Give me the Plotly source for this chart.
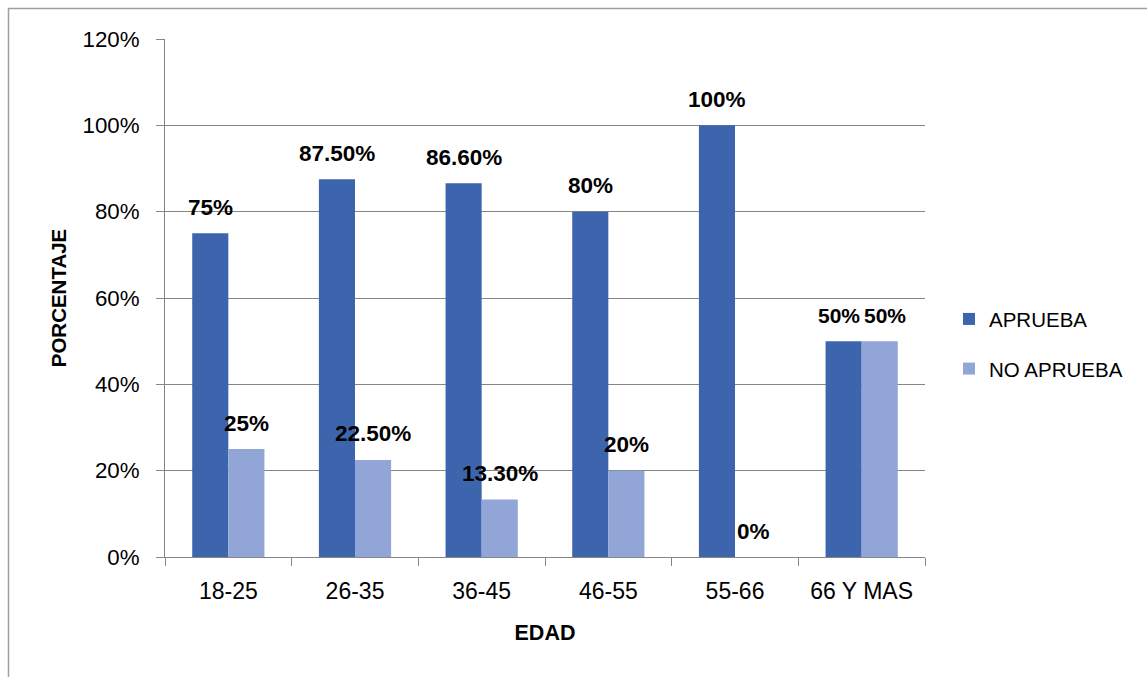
import plotly.graph_objects as go

categorias = ["18-25", "26-35", "36-45", "46-55", "55-66", "66 Y MAS"]
aprueba = [0.75, 0.875, 0.866, 0.80, 1.00, 0.50]
no_aprueba = [0.25, 0.225, 0.133, 0.20, 0.00, 0.50]
etiquetas_aprueba = ["75%", "87.50%", "86.60%", "80%", "100%", "50%"]
etiquetas_no_aprueba = ["25%", "22.50%", "13.30%", "20%", "0%", "50%"]

FONT = "Liberation Sans"
C1 = "#3C65AE"
C2 = "#91A6D6"

fig = go.Figure()
fig.add_trace(go.Bar(x=categorias, y=aprueba, name="APRUEBA", marker_color=C1,
                     marker_line_width=0, legendgroup="a"))
fig.add_trace(go.Bar(x=categorias, y=no_aprueba, name="NO APRUEBA", marker_color=C2,
                     marker_line_width=0, legendgroup="b"))

ann = []
for i, (cat, v, t) in enumerate(zip(categorias, aprueba, etiquetas_aprueba)):
    crowded = abs(aprueba[i] - no_aprueba[i]) < 0.05
    ann.append(dict(x=cat, y=v, text=t, xshift=-23 if crowded else -18, yshift=26, showarrow=False,
                    font=dict(family=FONT, size=21 if crowded else 22.5, color="black", weight="bold")))
for i, (cat, v, t) in enumerate(zip(categorias, no_aprueba, etiquetas_no_aprueba)):
    crowded = abs(aprueba[i] - no_aprueba[i]) < 0.05
    ann.append(dict(x=cat, y=v, text=t, xshift=23 if crowded else 18, yshift=26, showarrow=False,
                    font=dict(family=FONT, size=21 if crowded else 22.5, color="black", weight="bold")))

fig.update_layout(
    width=1147, height=677,
    margin=dict(l=165, r=222, t=39, b=120),
    paper_bgcolor="white", plot_bgcolor="white",
    barmode="group", bargap=0.43, bargroupgap=0,
    font=dict(family=FONT, size=22, color="black"),
    annotations=ann,
    legend=dict(x=1.0316, y=0.411, xanchor="left", yanchor="middle",
                font=dict(family=FONT, size=20.5), itemsizing="constant",
                tracegroupgap=20, itemwidth=30),
    showlegend=True,
)
fig.update_xaxes(showline=True, linecolor="#868686", linewidth=1,
                 ticks="outside", tickson="boundaries", ticklen=8, tickcolor="#868686",
                 tickfont=dict(family=FONT, size=23), ticklabelstandoff=13,
                 title=dict(text="<b>EDAD</b>", font=dict(family=FONT, size=21.5), standoff=22))
fig.update_yaxes(range=[0, 1.2], dtick=0.2, tickformat=".0%",
                 showgrid=True, gridcolor="#868686", gridwidth=1,
                 showline=True, linecolor="#868686", linewidth=1,
                 ticks="outside", ticklen=8, tickcolor="#868686",
                 tickfont=dict(family=FONT, size=22.3), zeroline=False, ticklabelstandoff=12,
                 title=dict(text="<b>PORCENTAJE</b>", font=dict(family=FONT, size=20.5), standoff=10))

fig.add_shape(type="rect", xref="paper", yref="paper",
              x0=(8.5 - 165) / 760, x1=1.35, y0=-0.4, y1=(557 - 8.5) / 518,
              line=dict(color="#A0A0A0", width=1.5), fillcolor="rgba(0,0,0,0)", layer="below")

fig.write_html("out.html")
